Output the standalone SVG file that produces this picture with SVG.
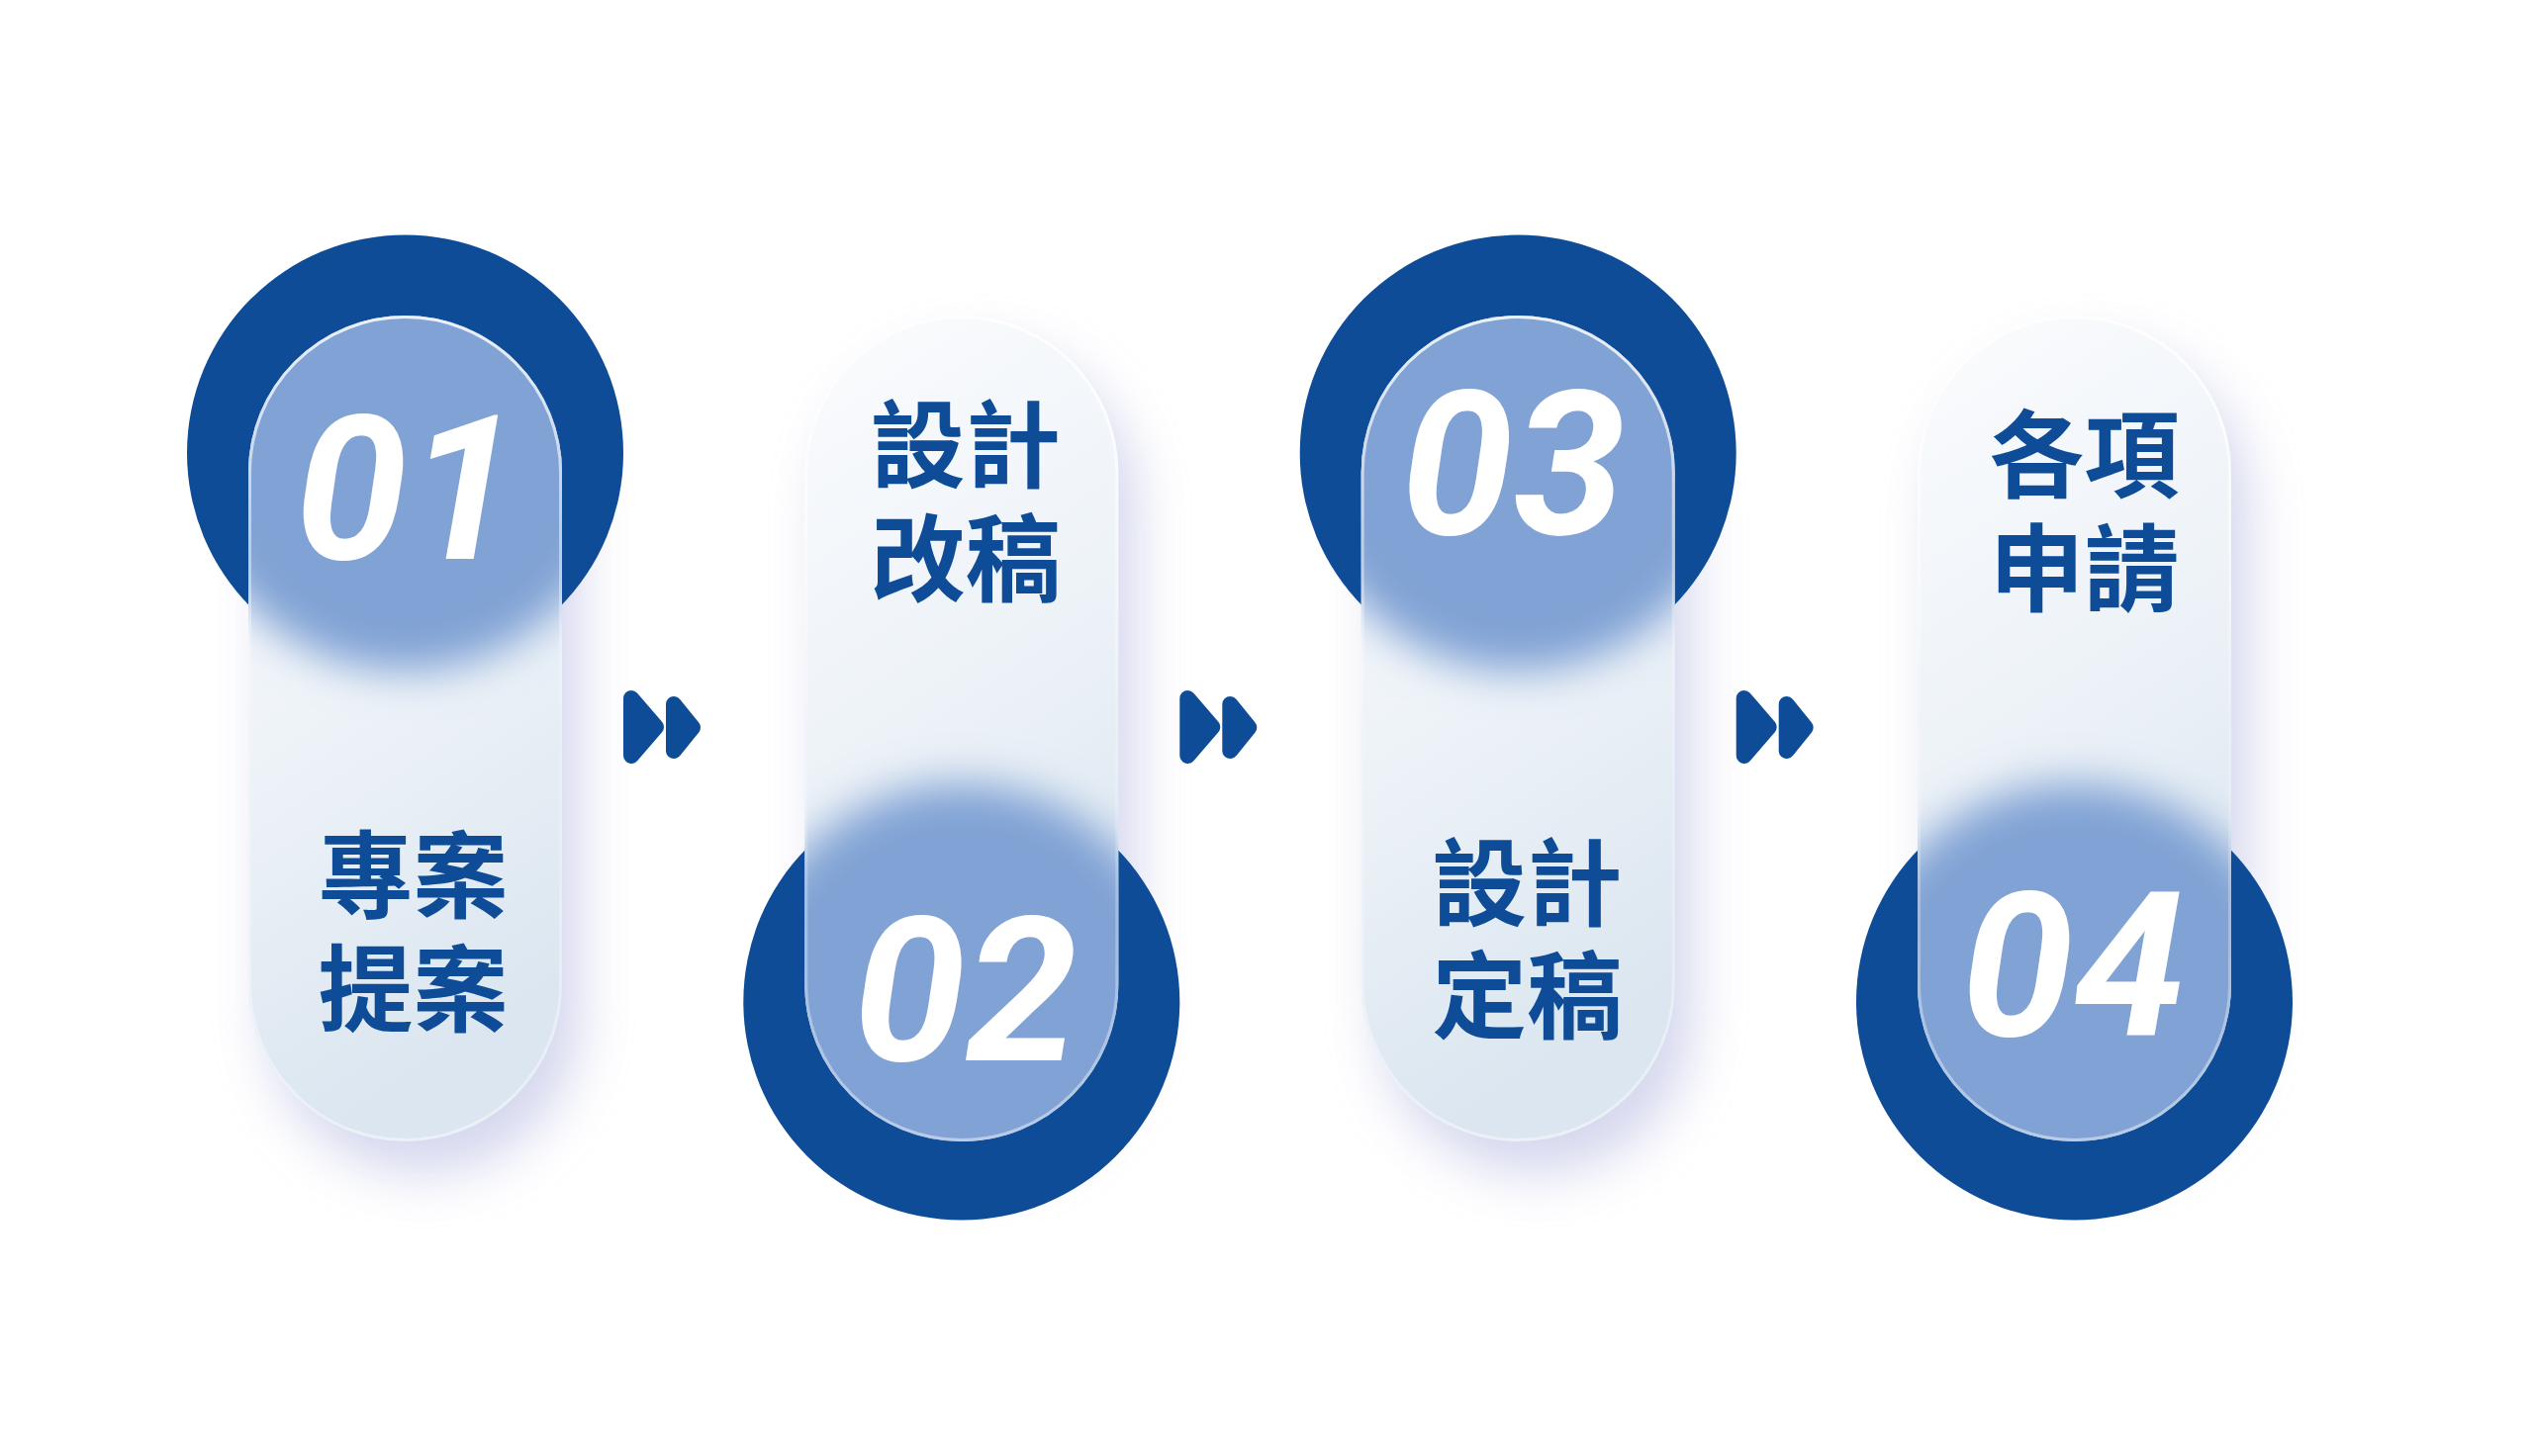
<svg xmlns="http://www.w3.org/2000/svg" width="2560" height="1472" viewBox="0 0 2560 1472">
<defs>
  <style>
    .disc{fill:#0e4c97}
    .pill{fill:url(#pillFill)}
    .shadow{fill:#c3c6e6;opacity:0.7}
    .rim{fill:none;stroke:url(#rimG);stroke-width:3}
    .glow{fill:#80a2d4}
    .num{font-family:Roboto,"Liberation Sans",sans-serif;font-weight:700;font-style:italic;font-size:204px;fill:#ffffff;text-anchor:middle}
    .lbl{font-family:"Noto Sans CJK TC","Noto Sans CJK SC",sans-serif;font-weight:700;font-size:96px;fill:#0e4c97;text-anchor:middle;dominant-baseline:central}
    .arrow{fill:#0e4c97;stroke:#0e4c97;stroke-width:16;stroke-linejoin:round}
  </style>
  <linearGradient id="pillFill" x1="0" y1="0" x2="0.25" y2="1">
    <stop offset="0" stop-color="#fbfcfe"/>
    <stop offset="0.5" stop-color="#eef3f8"/>
    <stop offset="1" stop-color="#dbe6f0"/>
  </linearGradient>
  <linearGradient id="rimG" x1="0" y1="0" x2="0" y2="1">
    <stop offset="0" stop-color="#ffffff" stop-opacity="0.85"/>
    <stop offset="0.5" stop-color="#ffffff" stop-opacity="0.12"/>
    <stop offset="1" stop-color="#ffffff" stop-opacity="0.45"/>
  </linearGradient>
  <filter id="soft" x="-30%" y="-30%" width="160%" height="160%">
    <feGaussianBlur stdDeviation="22"/>
  </filter>
  <filter id="haze" x="-50%" y="-30%" width="200%" height="160%">
    <feGaussianBlur stdDeviation="26"/>
  </filter>
  <clipPath id="pillClip">
    <rect x="-158.5" y="319" width="317" height="835" rx="158.5"/>
  </clipPath>
</defs>
<rect width="2560" height="1472" fill="#ffffff"/>

<g id="step1" transform="translate(409.5 0)">
  <rect class="shadow" x="-140" y="352" width="317" height="835" rx="158.5" filter="url(#haze)"/>
  <circle class="disc" cx="0" cy="458" r="220.5"/>
  <rect class="pill" x="-158.5" y="319" width="317" height="835" rx="158.5"/>
  <g clip-path="url(#pillClip)"><circle class="glow" cx="0" cy="458" r="220.5" filter="url(#soft)"/></g>
  <rect class="rim" x="-157" y="320.5" width="314" height="832" rx="157"/>
  <text class="num" x="2" y="565">01</text>
  <text class="lbl"><tspan x="8" y="877.5">專案</tspan><tspan x="8" y="992.5">提案</tspan></text>
</g>

<g id="step2" transform="translate(971.8 0)">
  <rect class="shadow" x="-140" y="352" width="317" height="835" rx="158.5" filter="url(#haze)"/>
  <circle class="disc" cx="0" cy="1013" r="220.5"/>
  <rect class="pill" x="-158.5" y="319" width="317" height="835" rx="158.5"/>
  <g clip-path="url(#pillClip)"><circle class="glow" cx="0" cy="1013" r="220.5" filter="url(#soft)"/></g>
  <rect class="rim" x="-157" y="320.5" width="314" height="832" rx="157"/>
  <text class="num" x="4" y="1072">02</text>
  <text class="lbl"><tspan x="4" y="443">設計</tspan><tspan x="4" y="557.5">改稿</tspan></text>
</g>

<g id="step3" transform="translate(1534.2 0)">
  <rect class="shadow" x="-140" y="352" width="317" height="835" rx="158.5" filter="url(#haze)"/>
  <circle class="disc" cx="0" cy="458" r="220.5"/>
  <rect class="pill" x="-158.5" y="319" width="317" height="835" rx="158.5"/>
  <g clip-path="url(#pillClip)"><circle class="glow" cx="0" cy="458" r="220.5" filter="url(#soft)"/></g>
  <rect class="rim" x="-157" y="320.5" width="314" height="832" rx="157"/>
  <text class="num" x="-5" y="540">03</text>
  <text class="lbl"><tspan x="9" y="885.5">設計</tspan><tspan x="9" y="1000">定稿</tspan></text>
</g>

<g id="step4" transform="translate(2096.5 0)">
  <rect class="shadow" x="-140" y="352" width="317" height="835" rx="158.5" filter="url(#haze)"/>
  <circle class="disc" cx="0" cy="1013" r="220.5"/>
  <rect class="pill" x="-158.5" y="319" width="317" height="835" rx="158.5"/>
  <g clip-path="url(#pillClip)"><circle class="glow" cx="0" cy="1013" r="220.5" filter="url(#soft)"/></g>
  <rect class="rim" x="-157" y="320.5" width="314" height="832" rx="157"/>
  <text class="num" x="-1" y="1047">04</text>
  <text class="lbl"><tspan x="10" y="452.5">各項</tspan><tspan x="10" y="568">申請</tspan></text>
</g>

<g id="connectors">
  <g>
    <path class="arrow" d="M638 706 L663 735 L638 764 Z"/>
    <path class="arrow" d="M681 712 L700 735.5 L681 759 Z"/>
  </g>
  <g transform="translate(562.3 0)">
    <path class="arrow" d="M638 706 L663 735 L638 764 Z"/>
    <path class="arrow" d="M681 712 L700 735.5 L681 759 Z"/>
  </g>
  <g transform="translate(1124.7 0)">
    <path class="arrow" d="M638 706 L663 735 L638 764 Z"/>
    <path class="arrow" d="M681 712 L700 735.5 L681 759 Z"/>
  </g>
</g>
</svg>
